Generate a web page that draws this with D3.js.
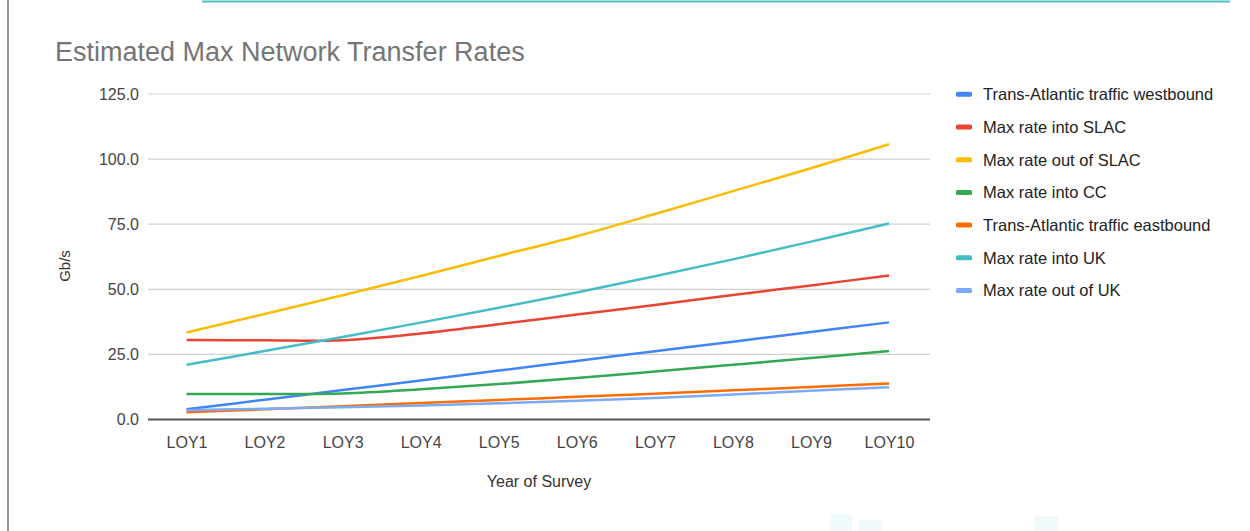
<!DOCTYPE html>
<html>
<head>
<meta charset="utf-8">
<script src="https://cdn.jsdelivr.net/npm/d3@7"></script>
<style>
  html, body { margin: 0; padding: 0; background: #fff; }
  svg { display: block; font-family: "Liberation Sans", Arial, sans-serif; }
</style>
</head>
<body>
<svg id="chart" width="1250" height="531"></svg>
<script>
// categories on the x axis
var years = ['LOY1', 'LOY2', 'LOY3', 'LOY4', 'LOY5', 'LOY6', 'LOY7', 'LOY8', 'LOY9', 'LOY10'];
// series values (Gb/s)
var westbound = [3.9, 7.6, 11.3, 15.0, 18.8, 22.5, 26.2, 29.9, 33.6, 37.3];
var intoSLAC = [30.5, 30.4, 30.4, 33.0, 36.6, 40.3, 44.0, 47.8, 51.5, 55.3];
var outOfSLAC = [33.4, 40.5, 47.7, 55.1, 62.8, 70.4, 78.9, 87.7, 96.5, 105.7];
var intoCC = [9.8, 9.8, 10.0, 11.6, 13.6, 15.9, 18.4, 21.0, 23.6, 26.3];
var eastbound = [2.8, 3.9, 5.1, 6.3, 7.5, 8.7, 9.9, 11.2, 12.5, 13.8];
var intoUK = [21.0, 26.3, 31.7, 37.2, 42.9, 48.8, 55.0, 61.5, 68.3, 75.3];
var outOfUK = [3.6, 4.1, 4.7, 5.4, 6.2, 7.2, 8.3, 9.6, 11.0, 12.4];
var seriesNames = ['Trans-Atlantic traffic westbound', 'Max rate into SLAC', 'Max rate out of SLAC',
  'Max rate into CC', 'Trans-Atlantic traffic eastbound', 'Max rate into UK', 'Max rate out of UK'];
var yTicks = [0, 25, 50, 75, 100, 125];

var colors = ['#4285f4', '#ea4335', '#fbbc04', '#34a853', '#ff6d01', '#46bdc6', '#7baaf7'];
var series = [westbound, intoSLAC, outOfSLAC, intoCC, eastbound, intoUK, outOfUK].map(function (v, i) {
  return { name: seriesNames[i], values: v, color: colors[i] };
});

var svg = d3.select('#chart');

// page decoration around the chart (slide edge)
svg.append('line').attr('x1', 8).attr('x2', 8).attr('y1', 0).attr('y2', 531)
  .attr('stroke', '#7a7a7a').attr('stroke-width', 1.5);
svg.append('line').attr('x1', 202).attr('x2', 1230).attr('y1', 1.5).attr('y2', 1.5)
  .attr('stroke', '#4fc1c6').attr('stroke-width', 2);
svg.append('g').attr('fill', '#f1fafb')
  .selectAll('rect').data([[830, 514, 22, 17], [858, 520, 24, 11], [1034, 516, 24, 15]])
  .enter().append('rect')
  .attr('x', function (d) { return d[0]; }).attr('y', function (d) { return d[1]; })
  .attr('width', function (d) { return d[2]; }).attr('height', function (d) { return d[3]; });

// title
svg.append('text').attr('x', 55).attr('y', 61)
  .attr('font-size', '27px').attr('fill', '#757575')
  .text('Estimated Max Network Transfer Rates');

var x = d3.scalePoint().domain(years).range([186.5, 889]);
var y = d3.scaleLinear().domain([0, 125]).range([419.5, 94]);
var gridLeft = 148, gridRight = 930;

// gridlines
svg.append('g').selectAll('line').data(yTicks.filter(function (d) { return d > 0; }))
  .enter().append('line')
  .attr('x1', gridLeft).attr('x2', gridRight)
  .attr('y1', function (d) { return y(d); }).attr('y2', function (d) { return y(d); })
  .attr('stroke', '#d0d0d0').attr('stroke-width', 1.2);

// y axis labels
var yAxis = svg.append('g').attr('transform', 'translate(' + gridLeft + ',0)')
  .call(d3.axisLeft(y).tickValues(yTicks).tickFormat(d3.format('.1f')).tickSize(0).tickPadding(9));
yAxis.select('.domain').remove();
yAxis.selectAll('text').attr('font-size', '16px').attr('fill', '#444')
  .attr('font-family', '"Liberation Sans", Arial, sans-serif');

// x axis
var xAxis = svg.append('g').attr('transform', 'translate(0,' + y(0) + ')')
  .call(d3.axisBottom(x).tickSize(0).tickPadding(17));
xAxis.select('.domain').remove();
xAxis.selectAll('text').attr('font-size', '16px').attr('fill', '#444')
  .attr('font-family', '"Liberation Sans", Arial, sans-serif');

// lines
var line = d3.line()
  .x(function (d, i) { return x(years[i]); })
  .y(function (d) { return y(d); })
  .curve(d3.curveCatmullRom);
svg.append('g').selectAll('path').data(series)
  .enter().append('path')
  .attr('d', function (d) { return line(d.values); })
  .attr('fill', 'none')
  .attr('stroke', function (d) { return d.color; })
  .attr('stroke-width', 2.5)
  .attr('stroke-linejoin', 'round');

// baseline
svg.append('line').attr('x1', gridLeft).attr('x2', gridRight)
  .attr('y1', y(0)).attr('y2', y(0))
  .attr('stroke', '#555').attr('stroke-width', 2);

// axis titles
svg.append('text').attr('x', 539).attr('y', 487).attr('text-anchor', 'middle')
  .attr('font-size', '16px').attr('fill', '#333').text('Year of Survey');
svg.append('text').attr('transform', 'translate(70,266) rotate(-90)').attr('text-anchor', 'middle')
  .attr('font-size', '15px').attr('fill', '#333').text('Gb/s');

// legend
var legend = svg.append('g').selectAll('g').data(series)
  .enter().append('g')
  .attr('transform', function (d, i) { return 'translate(956,' + (94.3 + i * 32.7) + ')'; });
legend.append('rect').attr('x', 0).attr('y', -2.5).attr('width', 16).attr('height', 5).attr('rx', 1.5)
  .attr('fill', function (d) { return d.color; });
legend.append('text').attr('x', 27).attr('dy', '0.36em')
  .attr('font-size', '16.5px').attr('fill', '#222')
  .text(function (d) { return d.name; });
</script>
</body>
</html>
